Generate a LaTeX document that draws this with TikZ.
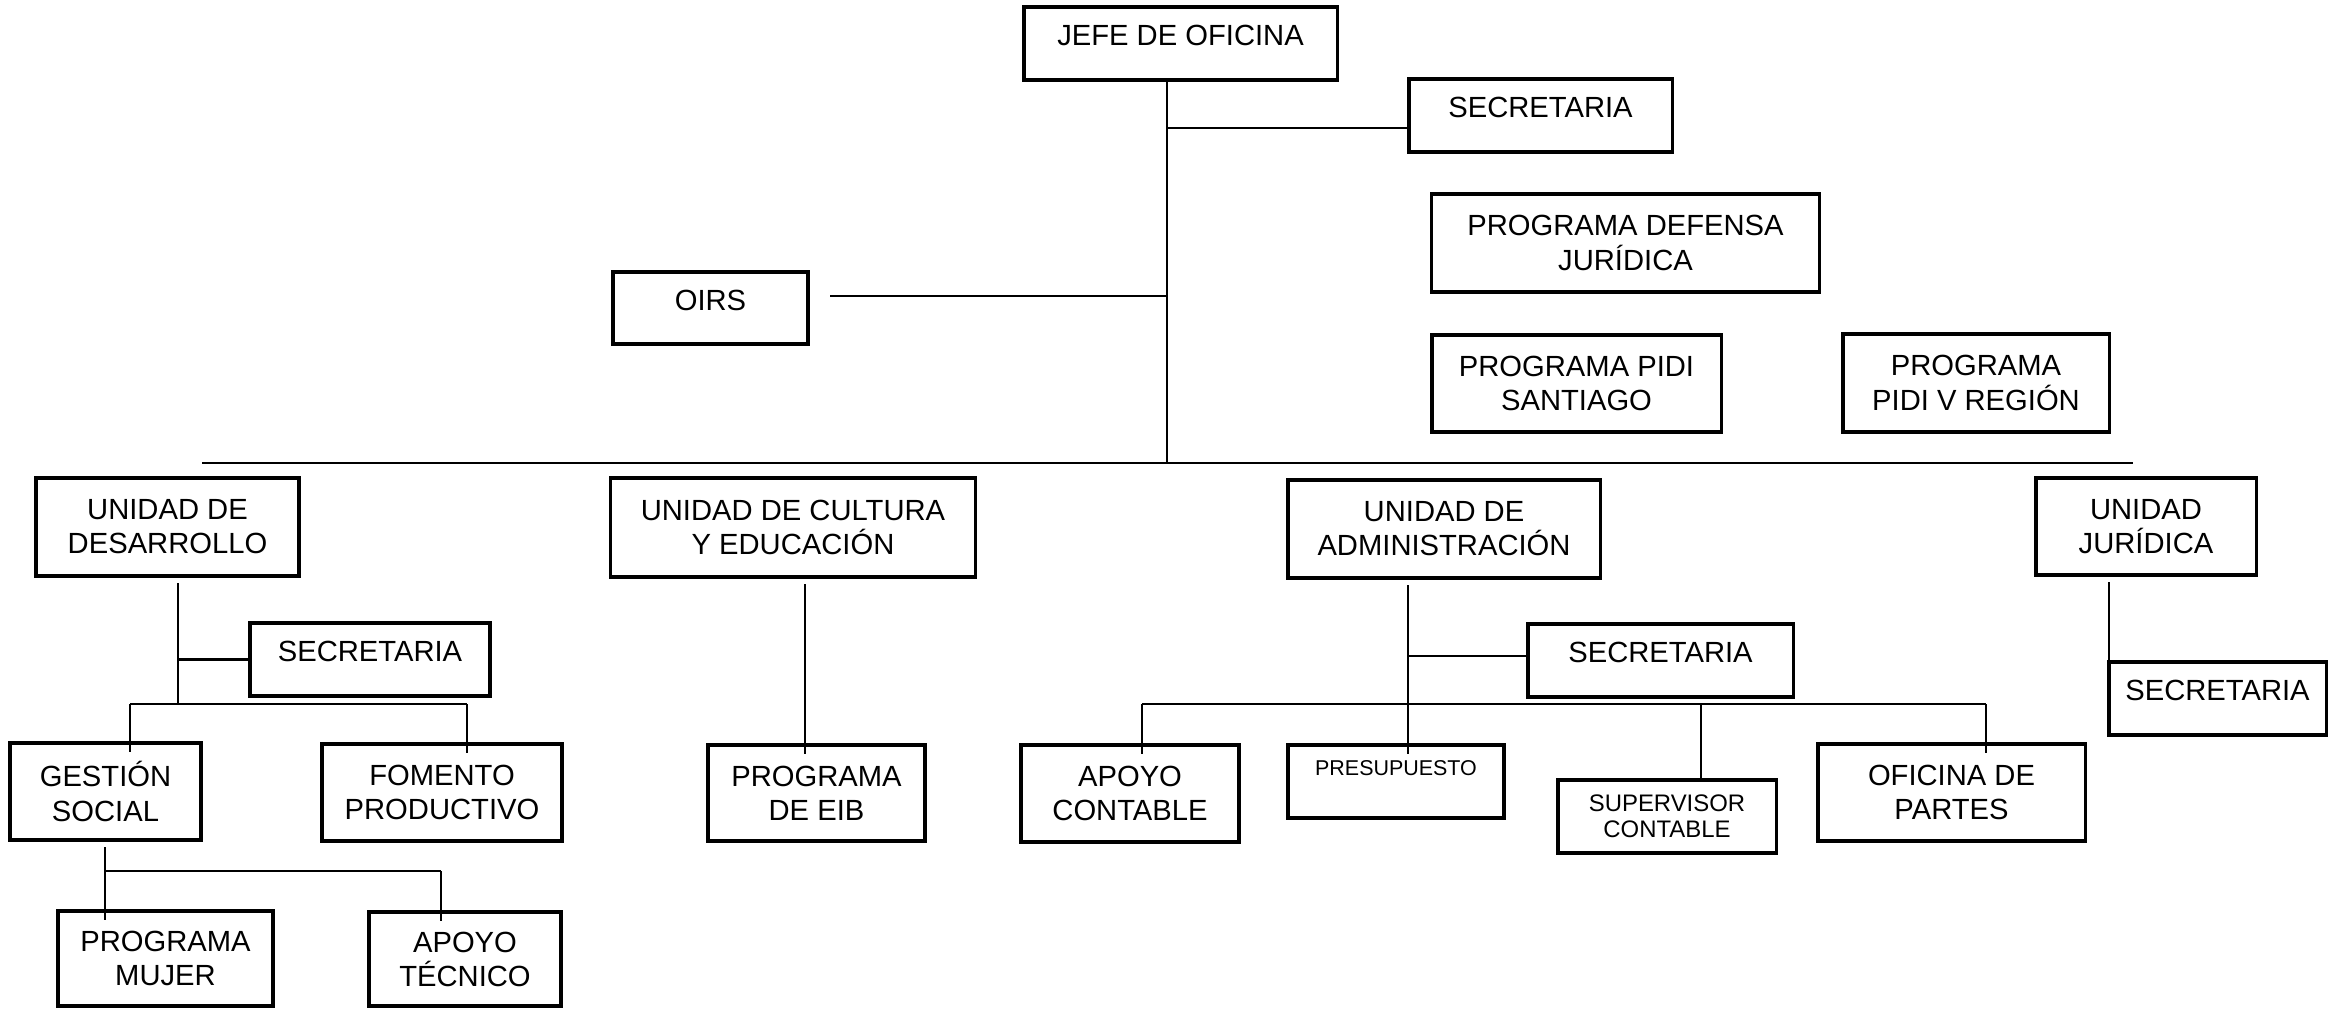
\documentclass[tikz,border=0pt]{standalone}
\usepackage{fontspec}
\setmainfont{Liberation Sans}
\tikzstyle{box}=[draw,line width=0.9pt,inner sep=0pt,outer sep=0pt,align=center,font=\fontsize{8.3}{9.7}\selectfont]
\tikzstyle{one}=[text height=6pt,text depth=4.6pt]
\tikzstyle{smalltext}=[font=\fontsize{6.8}{7.4}\selectfont]
\tikzstyle{pres}=[font=\fontsize{6.1}{7}\selectfont,text height=4.4pt,text depth=7.7pt]
\tikzstyle{conn}=[line width=0.7pt]
\tikzstyle{into}=[conn,shorten >=-2.5pt]
\tikzstyle{gap}=[conn,shorten <=2pt]

\begin{document}
\begin{tikzpicture}[x=0.01cm,y=-0.01cm]
\useasboundingbox (0,0) rectangle (2330,1009);
    \node[box,one,minimum width=3.13cm,minimum height=0.73cm] (1) at (1180.5,43.5) {JEFE DE OFICINA};
    \node[box,one,minimum width=2.63cm,minimum height=0.73cm] (2) at (1540.5,115.5) {SECRETARIA};
    \node[box,minimum width=3.87cm,minimum height=0.98cm] (3) at (1625.5,243) {PROGRAMA DEFENSA\\JURÍDICA};
    \node[box,one,minimum width=1.95cm,minimum height=0.72cm] (4) at (710.5,308) {OIRS};
    \node[box,minimum width=2.89cm,minimum height=0.97cm] (5) at (1576.5,383.5) {PROGRAMA PIDI\\SANTIAGO};
    \node[box,minimum width=2.66cm,minimum height=0.98cm] (6) at (1976,383) {PROGRAMA\\PIDI V REGIÓN};
    \node[box,minimum width=2.63cm,minimum height=0.98cm] (7) at (167.5,527) {UNIDAD DE\\DESARROLLO};
    \node[box,minimum width=3.64cm,minimum height=0.99cm] (8) at (793,527.5) {UNIDAD DE CULTURA\\Y EDUCACIÓN};
    \node[box,minimum width=3.12cm,minimum height=0.98cm] (9) at (1444,529) {UNIDAD DE\\ADMINISTRACIÓN};
    \node[box,minimum width=2.20cm,minimum height=0.97cm] (10) at (2146,526.5) {UNIDAD\\JURÍDICA};
    \node[box,one,minimum width=2.40cm,minimum height=0.73cm] (11) at (370,659.5) {SECRETARIA};
    \node[box,minimum width=1.91cm,minimum height=0.97cm] (12) at (105.5,791.5) {GESTIÓN\\SOCIAL};
    \node[box,minimum width=2.40cm,minimum height=0.97cm] (13) at (442,792.5) {FOMENTO\\PRODUCTIVO};
    \node[box,minimum width=2.17cm,minimum height=0.96cm] (14) at (816.5,793) {PROGRAMA\\DE EIB};
    \node[box,minimum width=2.15cm,minimum height=0.95cm] (15) at (165.5,958.5) {PROGRAMA\\MUJER};
    \node[box,minimum width=1.92cm,minimum height=0.94cm] (16) at (465,959) {APOYO\\TÉCNICO};
    \node[box,one,minimum width=2.65cm,minimum height=0.73cm] (17) at (1660.5,660.5) {SECRETARIA};
    \node[box,minimum width=2.18cm,minimum height=0.97cm] (18) at (1130,793.5) {APOYO\\CONTABLE};
    \node[box,pres,minimum width=2.16cm,minimum height=0.73cm] (19) at (1396,781.5) {PRESUPUESTO};
    \node[box,smalltext,minimum width=2.18cm,minimum height=0.73cm] (20) at (1667,816.5) {SUPERVISOR\\CONTABLE};
    \node[box,minimum width=2.67cm,minimum height=0.97cm] (21) at (1951.5,792.5) {OFICINA DE\\PARTES};
    \node[box,one,minimum width=2.17cm,minimum height=0.73cm] (22) at (2217.5,698.5) {SECRETARIA};

    \coordinate (t1) at (1167,128);
    \coordinate (t2) at (1167,296);
    \coordinate (t3) at (1167,463);
    \coordinate (b1) at (202,463);
    \coordinate (b2) at (2133,463);
    \draw[conn] (1.south -| t3) -- (t3);
    \draw[conn] (t1) -- (t1 -| 2.west);
    \draw[conn,shorten >=2.2mm] (t2) -- (t2 -| 4.east);
    \draw[conn] (b1) -- (b2);

    \coordinate (d0) at (178,704);
    \coordinate (d1) at (130,704);
    \coordinate (d2) at (467,704);
    \draw[gap] (d0 |- 7.south) -- (d0);
    \draw[conn] (d0 |- 11.west) -- (11.west);
    \draw[conn] (d1) -- (d2);
    \draw[into] (d1) -- (d1 |- 12.north);
    \draw[into] (d2) -- (d2 |- 13.north);

    \coordinate (c0) at (805,700);
    \draw[gap,into] (c0 |- 8.south) -- (c0 |- 14.north);

    \coordinate (g1) at (105,871);
    \coordinate (g2) at (441,871);
    \draw[gap] (g1 |- 12.south) -- (g1);
    \draw[conn] (g1) -- (g2);
    \draw[into] (g1) -- (g1 |- 15.north);
    \draw[into] (g2) -- (g2 |- 16.north);

    \coordinate (a0) at (1408,656);
    \coordinate (a1) at (1142,704);
    \coordinate (a2) at (1701,704);
    \coordinate (a3) at (1986,704);
    \draw[gap,into] (a0 |- 9.south) -- (a0 |- 19.north);
    \draw[conn] (a0) -- (a0 -| 17.west);
    \draw[conn] (a1) -- (a3);
    \draw[into] (a1) -- (a1 |- 18.north);
    \draw[conn] (a2) -- (a2 |- 20.north);
    \draw[into] (a3) -- (a3 |- 21.north);

    \draw[gap] (22.north west |- 10.south) -- (22.north west);
\end{tikzpicture}
\end{document}
